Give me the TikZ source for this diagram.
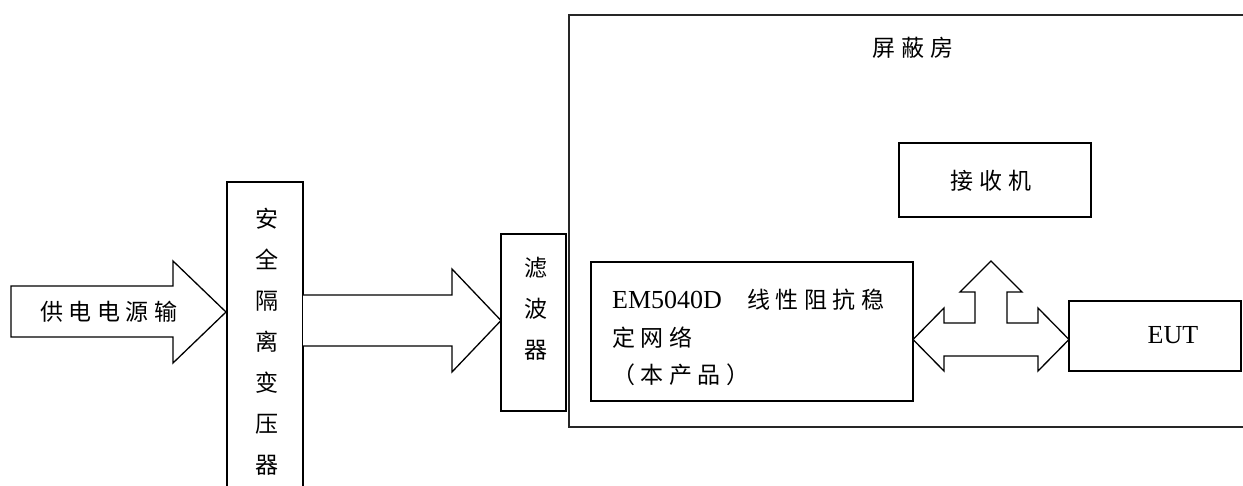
\documentclass[tikz,border=0pt]{standalone}
\usepackage{fontspec}
\setmainfont{Liberation Serif}
\newfontfamily\cjk[LetterSpace=24]{Noto Sans CJK SC}
\tikzset{
  box/.style={draw, line width=1.3pt, rectangle, inner sep=0pt},
  blk/.style={draw, line width=1.3pt, line join=miter, fill=white},
  zh/.style={font=\cjk\fontsize{23}{41}\selectfont, inner sep=0pt},
  en/.style={font=\fontsize{26}{30}\selectfont, inner sep=0pt},
  room/.style={draw=black!85, line width=2pt},
}
\begin{document}
\begin{tikzpicture}[x=1pt,y=-1pt]
\useasboundingbox[fill=white] (0,0) rectangle (1243,486);

% shielded room
\draw[room] (1243,15) -- (569,15) -- (569,427) -- (1243,427);
\node[zh] (roomlabel) at (913,48) {屏蔽房};

% supply arrow
\draw[blk] (11,286) -- (173,286) -- (173,261) -- (226,312) -- (173,363) -- (173,337) -- (11,337) -- cycle;
\node[zh] (supply) at (109,312) {供电电源输};

% isolation transformer
\draw[box] (227,486) -- (227,182) -- (303,182) -- (303,486);
\node[zh, align=center] (xfmr) at (267,342) {安\\全\\隔\\离\\变\\压\\器};

% arrow transformer -> filter
\draw[blk] (303,295) -- (452,295) -- (452,269) -- (501,320.5) -- (452,372) -- (452,346) -- (303,346);

% filter
\node[box, minimum width=65pt, minimum height=177pt] (filter) at (533.5,322.5) {};
\node[zh, align=center] (filtertext) at (536,309) {滤\\波\\器};

% receiver
\node[box, minimum width=192pt, minimum height=74pt] (rx) at (995,180) {};
\node[zh] (rxtext) at (991,181) {接收机};

% LISN
\node[box, minimum width=322pt, minimum height=139pt] (lisn) at (752,331.5) {};
\node[en, anchor=west] (lisnA) at (612,300) {EM5040D};
\node[zh, anchor=west] (lisnB) at (747,300) {线性阻抗稳};
\node[zh, anchor=west] (lisnC) at (612,338) {定网络};
\node[zh, anchor=west] (lisnD) at (612,375) {（本产品）};

% EUT
\node[box, minimum width=172pt, minimum height=70pt] (eut) at (1155,336) {};
\node[en] (euttext) at (1173,335) {EUT};

% T-shaped double arrow
\draw[blk] (913,339.5) -- (944,308) -- (944,323) -- (975,323) -- (975,292) -- (960,292)
  -- (991,261) -- (1022,292) -- (1007,292) -- (1007,323) -- (1038,323) -- (1038,308)
  -- (1069,339.5) -- (1038,371) -- (1038,356) -- (944,356) -- (944,371) -- cycle;
\end{tikzpicture}
\end{document}
